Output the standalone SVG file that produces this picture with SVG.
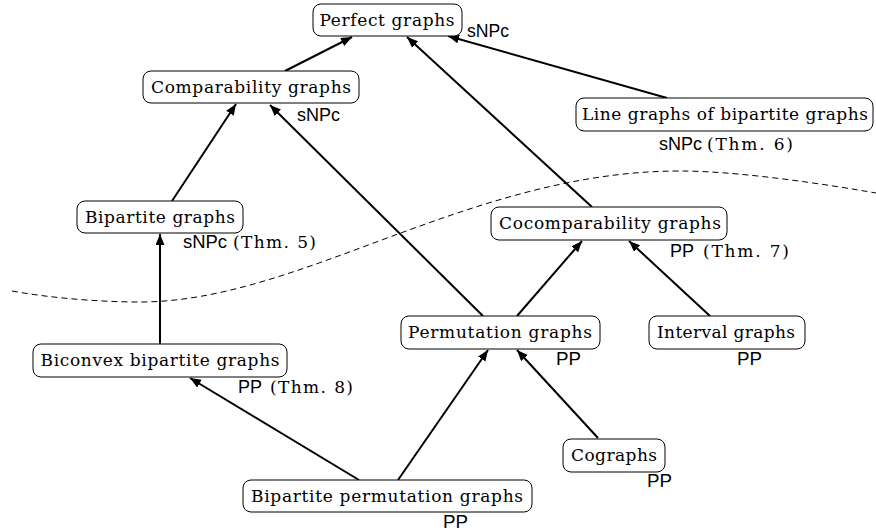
<svg xmlns="http://www.w3.org/2000/svg" width="876" height="531" viewBox="0 0 876 531">
<style>
.box{fill:#fff;stroke:#000;stroke-width:1}
.nt{font-family:"DejaVu Serif","Liberation Serif",serif;font-size:17px;text-anchor:middle;fill:#000}
.st{font-family:"DejaVu Serif","Liberation Serif",serif;font-size:17px;fill:#000}
.ss{font-family:"Liberation Sans","DejaVu Sans",sans-serif;font-size:17.5px;fill:#000}
.edge{stroke:#000;stroke-width:2;fill:none;marker-end:url(#arr)}
.curve{stroke:#000;stroke-width:1;fill:none;stroke-dasharray:6 4}
</style>
<defs>
<marker id="arr" markerUnits="userSpaceOnUse" markerWidth="12" markerHeight="10" refX="11" refY="4.5" orient="auto">
<path d="M0,0 L11,4.5 L0,9 z" fill="#000"/>
</marker>
</defs>
<rect width="876" height="531" fill="#fff"/>
<path class="curve" d="M12,291 C50,298 100,302 140,302 C300,302 470,171 680,171 C740,171 830,185 876,193"/>
<g id="connectors">
<line class="edge" x1="285" y1="71" x2="352" y2="37"/>
<line class="edge" x1="592" y1="207" x2="407" y2="37"/>
<line class="edge" x1="667" y1="98" x2="448" y2="36"/>
<line class="edge" x1="172" y1="201" x2="236" y2="104"/>
<line class="edge" x1="483" y1="316" x2="270" y2="105"/>
<line class="edge" x1="160" y1="344" x2="160" y2="234"/>
<line class="edge" x1="517" y1="316" x2="582" y2="241"/>
<line class="edge" x1="710" y1="316" x2="629" y2="241"/>
<line class="edge" x1="359" y1="480" x2="190" y2="378"/>
<line class="edge" x1="398" y1="480" x2="488" y2="350"/>
<line class="edge" x1="598" y1="438" x2="517" y2="350"/>
</g>
<g id="perfect">
<rect class="box" x="313" y="4" width="149" height="32" rx="8"/>
<text class="nt" x="387" y="26" textLength="135">Perfect graphs</text>
<text class="ss" x="467" y="37" textLength="42" lengthAdjust="spacingAndGlyphs">sNPc</text>
</g>
<g id="comparability">
<rect class="box" x="143" y="71" width="216" height="32" rx="8"/>
<text class="nt" x="251" y="93" textLength="200">Comparability graphs</text>
<text class="ss" x="297" y="121" textLength="43" lengthAdjust="spacingAndGlyphs">sNPc</text>
</g>
<g id="linegraphs">
<rect class="box" x="576" y="98" width="297" height="33" rx="8"/>
<text class="nt" x="725" y="120" textLength="286">Line graphs of bipartite graphs</text>
<text class="ss" x="659" y="150" textLength="43" lengthAdjust="spacingAndGlyphs">sNPc</text>
<text class="st" x="707" y="150" textLength="86">(Thm. 6)</text>
</g>
<g id="cocomparability">
<rect class="box" x="491" y="207" width="236" height="33" rx="8"/>
<text class="nt" x="610" y="229" textLength="222">Cocomparability graphs</text>
<text class="ss" x="670" y="257" textLength="24" lengthAdjust="spacingAndGlyphs">PP</text>
<text class="st" x="703" y="257" textLength="86">(Thm. 7)</text>
</g>
<g id="bipartite">
<rect class="box" x="77" y="201" width="166" height="32" rx="8"/>
<text class="nt" x="160" y="223" textLength="150">Bipartite graphs</text>
<text class="ss" x="183" y="248" textLength="44" lengthAdjust="spacingAndGlyphs">sNPc</text>
<text class="st" x="233" y="248" textLength="83">(Thm. 5)</text>
</g>
<g id="biconvex">
<rect class="box" x="33" y="344" width="254" height="33" rx="8"/>
<text class="nt" x="160" y="366" textLength="239">Biconvex bipartite graphs</text>
<text class="ss" x="238" y="393" textLength="24" lengthAdjust="spacingAndGlyphs">PP</text>
<text class="st" x="270" y="393" textLength="83">(Thm. 8)</text>
</g>
<g id="permutation">
<rect class="box" x="401" y="316" width="199" height="33" rx="8"/>
<text class="nt" x="500" y="338" textLength="184">Permutation graphs</text>
<text class="ss" x="556" y="365" textLength="25" lengthAdjust="spacingAndGlyphs">PP</text>
</g>
<g id="interval">
<rect class="box" x="649" y="316" width="156" height="33" rx="8"/>
<text class="nt" x="726" y="338" textLength="138">Interval graphs</text>
<text class="ss" x="737" y="365" textLength="25" lengthAdjust="spacingAndGlyphs">PP</text>
</g>
<g id="cographs">
<rect class="box" x="563" y="439" width="102" height="33" rx="8"/>
<text class="nt" x="614" y="461" textLength="86">Cographs</text>
<text class="ss" x="647" y="487" textLength="25" lengthAdjust="spacingAndGlyphs">PP</text>
</g>
<g id="bippermutation">
<rect class="box" x="243" y="480" width="289" height="32" rx="8"/>
<text class="nt" x="387" y="502" textLength="272">Bipartite permutation graphs</text>
<text class="ss" x="443" y="528" textLength="25" lengthAdjust="spacingAndGlyphs">PP</text>
</g>
</svg>
